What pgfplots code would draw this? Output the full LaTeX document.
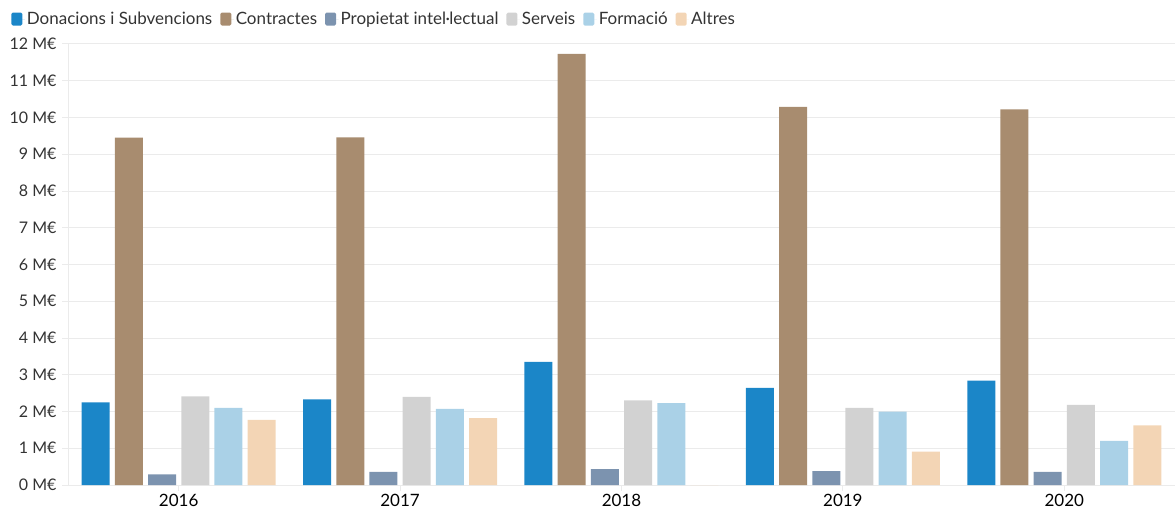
\documentclass[border=0pt]{standalone}
\usepackage{fontspec}
\setmainfont{Lato}
\usepackage{pgfplots}
\pgfplotsset{compat=1.18}
\definecolor{cA}{HTML}{1B86C8}
\definecolor{cB}{HTML}{A88C6F}
\definecolor{cC}{HTML}{7C93AF}
\definecolor{cD}{HTML}{D2D2D2}
\definecolor{cE}{HTML}{AAD1E7}
\definecolor{cF}{HTML}{F3D5B5}
\definecolor{txt}{HTML}{333333}
\definecolor{gridc}{HTML}{EBEBEB}
\pgfplotsset{myleg/.style={legend image code/.code={\fill[##1, rounded corners=1.5pt] (0pt,-6.5pt) rectangle (11pt,6.5pt); \path (0pt,0pt) -- (13.5pt,0pt);}}}
\begin{document}
\begin{tikzpicture}
\begin{axis}[
  at={(0pt,0pt)}, anchor=south west,
  scale only axis, width=1107pt, height=441pt,
  xmin=-0.5, xmax=4.5, ymin=0, ymax=12,
  ybar=5.2pt, bar width=28pt,
  xtick={0,1,2,3,4}, xticklabels={2016,2017,2018,2019,2020},
  ytick={0,1,2,3,4,5,6,7,8,9,10,11,12},
  yticklabels={0 M€,1 M€,2 M€,3 M€,4 M€,5 M€,6 M€,7 M€,8 M€,9 M€,10 M€,11 M€,12 M€},
  ymajorgrids, grid style={color=gridc, line width=1pt},
  axis x line*=bottom, axis y line*=left,
  axis line style={color=gridc, line width=1pt},
  tick align=outside, major tick length=6pt,
  tick style={color=gridc, line width=1pt},
  yticklabel style={font=\fontsize{16}{18}\selectfont, color=txt, xshift=-2pt},
  xticklabel style={font=\fontsize{17}{19}\selectfont, color=black},
  legend style={at={(axis description cs:-0.054,1.082)}, anchor=north west, draw=none, fill=none,
    legend columns=-1, font=\fontsize{17}{19}\selectfont\color{txt},
    /tikz/every even column/.append style={column sep=6pt}},
  legend cell align=left,
]
\addplot[fill=cA, draw=none, myleg] coordinates {(0,2.25) (1,2.33) (2,3.35) (3,2.64) (4,2.84)};
\addplot[fill=cB, draw=none, myleg] coordinates {(0,9.45) (1,9.46) (2,11.73) (3,10.29) (4,10.22)};
\addplot[fill=cC, draw=none, myleg] coordinates {(0,0.29) (1,0.36) (2,0.43) (3,0.38) (4,0.36)};
\addplot[fill=cD, draw=none, myleg] coordinates {(0,2.41) (1,2.40) (2,2.30) (3,2.10) (4,2.18)};
\addplot[fill=cE, draw=none, myleg] coordinates {(0,2.10) (1,2.07) (2,2.23) (3,2.00) (4,1.20)};
\addplot[fill=cF, draw=none, myleg] coordinates {(0,1.77) (1,1.82) (2,0) (3,0.91) (4,1.62)};
\legend{Donacions i Subvencions, Contractes, Propietat intel·lectual, Serveis, Formació, Altres}
\end{axis}
\pgfresetboundingbox
\path (-68pt,-30pt) rectangle (1107pt,485pt);
\end{tikzpicture}
\end{document}
